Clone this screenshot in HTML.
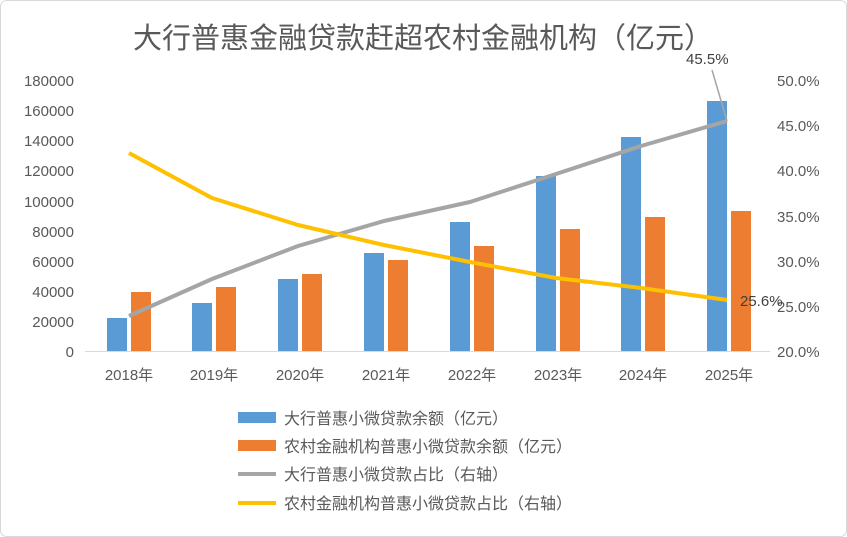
<!DOCTYPE html>
<html><head><meta charset="utf-8"><style>
html,body{margin:0;padding:0;background:#fff;}
svg{display:block;font-family:"Liberation Sans","Noto Sans CJK SC",sans-serif;}
</style></head><body>
<svg width="847" height="537" viewBox="0 0 847 537" xmlns="http://www.w3.org/2000/svg">
<rect x="0.5" y="0.5" width="846" height="536" rx="6" fill="#fff" stroke="#d9d9d9"/>
<text x="423" y="48" text-anchor="middle" font-size="29" fill="#595959" font-family="'Noto Sans CJK SC',sans-serif">大行普惠金融贷款赶超农村金融机构（亿元）</text>
<g font-size="15" fill="#595959" text-anchor="end">
<text x="74" y="357">0</text><text x="74" y="327">20000</text><text x="74" y="297">40000</text><text x="74" y="267">60000</text><text x="74" y="237">80000</text><text x="74" y="207">100000</text><text x="74" y="176">120000</text><text x="74" y="146">140000</text><text x="74" y="116">160000</text><text x="74" y="86">180000</text>
</g>
<g font-size="15" fill="#595959" text-anchor="start">
<text x="777" y="357">20.0%</text><text x="777" y="312">25.0%</text><text x="777" y="267">30.0%</text><text x="777" y="222">35.0%</text><text x="777" y="176">40.0%</text><text x="777" y="131">45.0%</text><text x="777" y="86">50.0%</text>
</g>
<line x1="85" y1="351.5" x2="770" y2="351.5" stroke="#d9d9d9"/>
<g fill="#5b9bd5">
<rect x="107" y="318" width="20" height="33"/>
<rect x="192" y="303" width="20" height="48"/>
<rect x="278" y="279" width="20" height="72"/>
<rect x="364" y="253" width="20" height="98"/>
<rect x="450" y="222" width="20" height="129"/>
<rect x="536" y="176" width="20" height="175"/>
<rect x="621" y="137" width="20" height="214"/>
<rect x="707" y="101" width="20" height="250"/>
</g>
<g fill="#ed7d31">
<rect x="131" y="292" width="20" height="59"/>
<rect x="216" y="287" width="20" height="64"/>
<rect x="302" y="274" width="20" height="77"/>
<rect x="388" y="260" width="20" height="91"/>
<rect x="474" y="246" width="20" height="105"/>
<rect x="560" y="229" width="20" height="122"/>
<rect x="645" y="217" width="20" height="134"/>
<rect x="731" y="211" width="20" height="140"/>
</g>
<polyline fill="none" stroke="#a5a5a5" stroke-width="4" stroke-linejoin="round" points="129,316 212,279 298,246 384,221 470,202 556,174 641,146 727,121"/>
<polyline fill="none" stroke="#ffc000" stroke-width="4" stroke-linejoin="round" points="129,153 212,198 298,225 384,245 470,262 556,278 641,288 727,300"/>
<line x1="727" y1="121" x2="712" y2="70" stroke="#a5a5a5" stroke-width="1.5"/>
<text x="686" y="64" font-size="15" fill="#404040">45.5%</text>
<text x="740" y="306" font-size="15" fill="#404040">25.6%</text>
<g font-size="15" fill="#595959" text-anchor="middle">
<text x="129" y="380">2018年</text><text x="214" y="380">2019年</text><text x="300" y="380">2020年</text><text x="386" y="380">2021年</text><text x="472" y="380">2022年</text><text x="558" y="380">2023年</text><text x="643" y="380">2024年</text><text x="729" y="380">2025年</text>
</g>
<rect x="238" y="412" width="38" height="11" fill="#5b9bd5"/>
<rect x="238" y="440" width="38" height="11" fill="#ed7d31"/>
<line x1="238" y1="474" x2="276" y2="474" stroke="#a5a5a5" stroke-width="4"/>
<line x1="238" y1="503" x2="276" y2="503" stroke="#ffc000" stroke-width="4"/>
<g font-size="16" fill="#595959">
<text x="284" y="424">大行普惠小微贷款余额（亿元）</text>
<text x="284" y="452">农村金融机构普惠小微贷款余额（亿元）</text>
<text x="284" y="480">大行普惠小微贷款占比（右轴）</text>
<text x="284" y="509">农村金融机构普惠小微贷款占比（右轴）</text>
</g>
</svg>
</body></html>
